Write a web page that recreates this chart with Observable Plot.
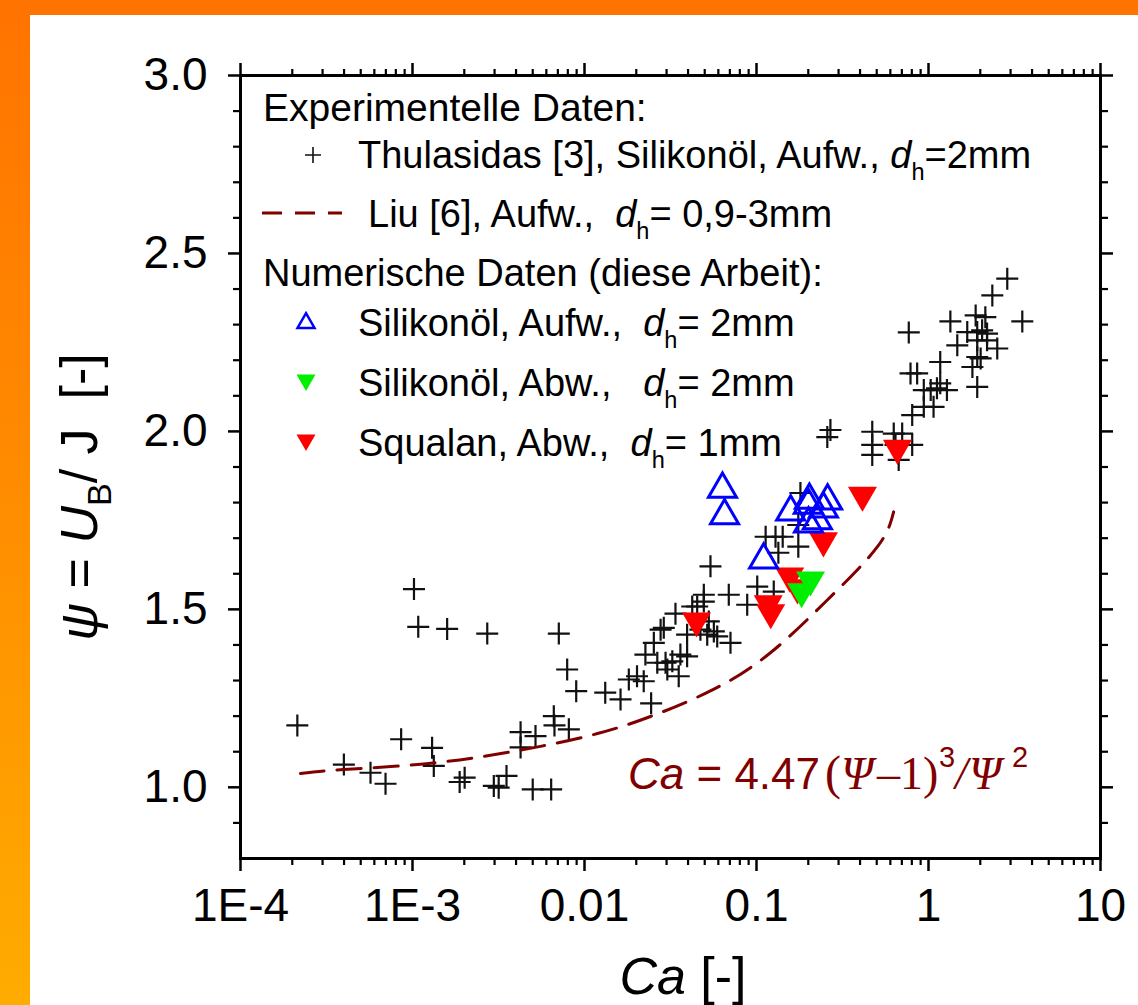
<!DOCTYPE html>
<html><head><meta charset="utf-8">
<script src="https://cdn.jsdelivr.net/npm/d3@7"></script>
<script src="https://cdn.jsdelivr.net/npm/@observablehq/plot@0.6"></script>
<style>
html,body{margin:0;padding:0;}
body{width:1138px;height:1005px;position:relative;overflow:hidden;background:linear-gradient(180deg,#ff7300 0%,#ff8a00 45%,#ffac00 100%);}
#panel{position:absolute;left:30px;top:15px;right:0;bottom:0;background:#fff;}
#chart{position:absolute;left:0;top:0;}
</style></head><body><div id="panel"></div><div id="chart"></div>
<script>
// Thulasidas [3] experimental data (Ca, psi)
const thulCa = [2.14e-4,3.99e-4,5.70e-4,6.97e-4,8.59e-4,1.02e-3,1.08e-3,1.59e-3,2.72e-3,7.09e-3,1.30e-3,1.33e-3,1.88e-3,2.01e-3,2.97e-3,3.17e-3,3.52e-3,5.00e-3,6.40e-3,4.25e-3,5.19e-3,4.25e-3,6.63e-3,6.69e-3,8.11e-3,7.93e-3,8.95e-3,0.0132,0.0162,0.0244,0.0181,0.0202,0.0221,0.0226,0.0253,0.0289,0.0338,0.0265,0.0296,0.0324,0.0361,0.0395,0.0303,0.0353,0.0395,0.0423,0.0452,0.0494,0.0517,0.0565,0.0591,0.0706,0.0528,0.0540,0.0494,0.0690,0.0883,0.126,0.101,0.113,0.129,0.142,0.134,0.175,0.180,0.175,0.0277,0.0472,0.269,0.258,0.471,0.471,0.471,0.628,0.643,0.671,0.703,0.804,0.804,0.939,1.07,0.939,1.03,1.12,1.17,1.28,0.786,0.859,1.17,0.768,1.34,1.47,1.68,1.92,2.05,2.19,1.88,2.14,1.92,2.19,2.51,1.92,2.01,1.80,1.92,2.35,2.87,3.51];
const thulPsi = [1.174,1.064,1.041,1.010,1.135,1.557,1.451,1.445,1.432,1.432,1.111,1.060,1.015,1.027,1.004,0.999,1.032,0.994,0.994,1.155,1.144,1.112,1.200,1.174,1.163,1.331,1.270,1.266,1.247,1.236,1.303,1.312,1.298,1.373,1.406,1.448,1.488,1.350,1.350,1.354,1.373,1.368,1.331,1.312,1.429,1.508,1.508,1.522,1.429,1.438,1.424,1.406,1.466,1.621,1.541,1.541,1.513,1.550,1.564,1.704,1.704,1.704,1.659,1.676,1.827,1.737,1.443,1.443,2.004,1.984,1.999,1.962,1.934,1.994,1.962,1.920,1.994,1.962,2.046,2.069,2.069,2.116,2.116,2.121,2.135,2.116,2.163,2.163,2.195,2.278,2.309,2.242,2.279,2.279,2.284,2.275,2.326,2.321,2.256,2.256,2.233,2.209,2.205,2.181,2.125,2.382,2.429,2.309];

// Liu [6] correlation curve
const liuCa  = [2.23e-4,3.97e-4,1.07e-3,2.59e-3,5.55e-3,0.0119,0.0242,0.0562,0.1205,0.259,0.505,0.627];
const liuPsi = [1.039,1.050,1.064,1.087,1.115,1.151,1.199,1.275,1.378,1.527,1.676,1.774];

// Numerical data: Silikonöl Aufw. (blue), Silikonöl Abw. (green), Squalan Abw. (red)
const siAufCa  = [0.0634,0.0652,0.110,0.158,0.203,0.200,0.259,0.2005,0.226,0.245];
const siAufPsi = [1.838,1.763,1.639,1.774,1.807,1.793,1.805,1.740,1.749,1.782];
const siAbCa   = [0.206,0.183];
const siAbPsi  = [1.583,1.550];
const sqCa     = [0.660,0.413,0.245,0.156,0.173,0.117,0.121,0.0448];
const sqPsi    = [1.953,1.821,1.693,1.594,1.561,1.516,1.491,1.468];

// Axis ticks
const xMajor = [1e-4,1e-3,0.01,0.1,1,10];
const xLabels = ["1E-4","1E-3","0.01","0.1","1","10"];
const xMinor = [];
for (const e of [-4,-3,-2,-1,0]) for (let k=2;k<=9;k++) xMinor.push(+(k*Math.pow(10,e)).toPrecision(3));
const yMajor = [1.0,1.5,2.0,2.5,3.0];
const yMinor = [0.9,1.1,1.2,1.3,1.4,1.6,1.7,1.8,1.9,2.1,2.2,2.3,2.4,2.6,2.7,2.8,2.9];

const toRows = (xs, ys) => xs.map((x,i)=>({x, y: ys[i]}));
const thul = toRows(thulCa, thulPsi);
const liu = toRows(liuCa, liuPsi);
const siAuf = toRows(siAufCa, siAufPsi);
const siAb = toRows(siAbCa, siAbPsi);
const sq = toRows(sqCa, sqPsi);

const plusSym = {draw(ctx,size){const r=Math.sqrt(size/Math.PI);ctx.moveTo(-r,0);ctx.lineTo(r,0);ctx.moveTo(0,-r);ctx.lineTo(0,r);}};
const triUp = {draw(ctx,size){const r=Math.sqrt(size/Math.PI);const h=2*r*Math.sqrt(3)/2;ctx.moveTo(0,-2*h/3);ctx.lineTo(r,h/3);ctx.lineTo(-r,h/3);ctx.closePath();}};
const triDown = {draw(ctx,size){const r=Math.sqrt(size/Math.PI);const h=2*r*Math.sqrt(3)/2;ctx.moveTo(0,2*h/3);ctx.lineTo(r,-h/3);ctx.lineTo(-r,-h/3);ctx.closePath();}};

const labelMap = new Map(xMajor.map((v,i)=>[v,xLabels[i]]));
const FONT = "'Liberation Sans', Arial, sans-serif";
const SERIF = "'Liberation Serif', 'Times New Roman', serif";
const DARKRED = "#800000";

const chart = Plot.plot({
  width: 1138, height: 1005,
  marginLeft: 240, marginRight: 38, marginTop: 75, marginBottom: 147,
  style: {background: "transparent", fontFamily: FONT, color: "black"},
  x: {type: "log", domain: [1e-4, 10]},
  y: {domain: [0.8, 3.0]},
  marks: [
    Plot.axisX(xMajor, {anchor: "bottom", tickSize: 13, tickPadding: 17, strokeWidth: 2.5, fontSize: 46, tickFormat: d => labelMap.get(d), label: null}),
    Plot.axisX(xMinor, {anchor: "bottom", tickSize: 7, strokeWidth: 2.2, fill: "none", label: null}),
    Plot.axisX(xMajor, {anchor: "top", tickSize: 13, strokeWidth: 2.5, fill: "none", label: null}),
    Plot.axisX(xMinor, {anchor: "top", tickSize: 7, strokeWidth: 2.2, fill: "none", label: null}),
    Plot.axisY(yMajor, {anchor: "left", tickSize: 12, tickPadding: 21, strokeWidth: 2.5, fontSize: 46, tickFormat: d3.format(".1f"), label: null}),
    Plot.axisY(yMinor, {anchor: "left", tickSize: 7, strokeWidth: 2.2, fill: "none", label: null}),
    Plot.axisY(yMajor, {anchor: "right", tickSize: 12, strokeWidth: 2.5, fill: "none", label: null}),
    Plot.axisY(yMinor, {anchor: "right", tickSize: 7, strokeWidth: 2.2, fill: "none", label: null}),
    Plot.dot(thul, {x: "x", y: "y", symbol: plusSym, r: 11, stroke: "#111", strokeWidth: 2.2, fill: "none"}),
    Plot.line(liu, {x: "x", y: "y", stroke: DARKRED, strokeWidth: 3, strokeDasharray: "24,13", curve: "natural"}),
    Plot.dot(sq, {x: "x", y: "y", symbol: triDown, r: 14.5, fill: "#ff0000", stroke: "none"}),
    Plot.dot(siAb, {x: "x", y: "y", symbol: triDown, r: 14.5, fill: "#00ee00", stroke: "none"}),
    Plot.dot(siAuf, {x: "x", y: "y", symbol: triUp, r: 14, fill: "none", stroke: "#0000ff", strokeWidth: 3}),
    Plot.frame({stroke: "black", strokeWidth: 3})
  ]
});
document.getElementById("chart").appendChild(chart);

// Legend, annotation and axis titles
const svg = d3.select(chart);
const g = svg.append("g").attr("font-family", FONT).attr("fill", "black").attr("text-anchor", "start").style("white-space", "pre");

function dhText(sel, x, y, before, after, size) {
  const t = sel.append("text").attr("x", x).attr("y", y).attr("font-size", size).attr("text-anchor", "start").attr("xml:space", "preserve");
  t.append("tspan").text(before);
  t.append("tspan").attr("font-style", "italic").text("d");
  t.append("tspan").attr("dy", 12).attr("font-size", size * 0.62).text("h");
  t.append("tspan").attr("dy", -12).text(after);
  return t;
}

g.append("text").attr("x", 263).attr("y", 121).attr("font-size", 39).text("Experimentelle Daten:");
g.append("path").attr("d", "M305,155H321M313,147V163").attr("stroke", "#111").attr("stroke-width", 1.6);
dhText(g, 358, 168, "Thulasidas [3], Silikonöl, Aufw., ", "=2mm", 38);
g.append("path").attr("d", "M262,213H342").attr("stroke", DARKRED).attr("stroke-width", 3).attr("stroke-dasharray", "20,13");
dhText(g, 368, 227, "Liu [6], Aufw.,  ", "= 0,9-3mm", 38);
g.append("text").attr("x", 263).attr("y", 286).attr("font-size", 38).text("Numerische Daten (diese Arbeit):");
// legend symbols
const lt = (cx, cy, r, up) => {
  const h = 2*r*Math.sqrt(3)/2;
  return up ? `M${cx},${cy-2*h/3}L${cx+r},${cy+h/3}L${cx-r},${cy+h/3}Z` : `M${cx},${cy+2*h/3}L${cx+r},${cy-h/3}L${cx-r},${cy-h/3}Z`;
};
g.append("path").attr("d", lt(306, 323, 8.5, true)).attr("fill", "none").attr("stroke", "#0000ff").attr("stroke-width", 2.5);
dhText(g, 358, 336, "Silikonöl, Aufw.,  ", "= 2mm", 38);
g.append("path").attr("d", lt(306, 380, 9.5, false)).attr("fill", "#00ee00");
dhText(g, 358, 396, "Silikonöl, Abw.,   ", "= 2mm", 38);
g.append("path").attr("d", lt(306, 440, 9.5, false)).attr("fill", "#ff0000");
dhText(g, 358, 456, "Squalan, Abw.,  ", "= 1mm", 38);

// formula annotation
const f = g.append("text").attr("x", 628).attr("y", 789).attr("font-size", 44).attr("fill", DARKRED).attr("xml:space", "preserve");
f.append("tspan").attr("font-style", "italic").text("Ca");
f.append("tspan").text(" = 4.47");
f.append("tspan").attr("x", 825).attr("font-family", SERIF).attr("font-size", 48).text("(");
f.append("tspan").attr("x", 841).attr("font-family", SERIF).attr("font-style", "italic").attr("font-size", 46).text("Ψ");
f.append("tspan").attr("x", 877).attr("font-family", SERIF).attr("font-size", 46).text("–1)");
f.append("tspan").attr("x", 939).attr("dy", -22).attr("font-size", 29).text("3");
f.append("tspan").attr("x", 955).attr("dy", 22).attr("font-family", SERIF).attr("font-style", "italic").attr("font-size", 46).text("/");
f.append("tspan").attr("x", 969).attr("font-family", SERIF).attr("font-style", "italic").attr("font-size", 46).text("Ψ");
f.append("tspan").attr("x", 1012).attr("dy", -22).attr("font-size", 29).text("2");

// x axis title
const xt = g.append("text").attr("x", 683).attr("y", 994).attr("font-size", 52).attr("text-anchor", "middle").attr("xml:space", "preserve");
xt.append("tspan").attr("font-style", "italic").text("Ca");
xt.append("tspan").text(" [-]");

// y axis title
const yt = g.append("text").attr("transform", "translate(97,497) rotate(-90)").attr("font-size", 52).attr("text-anchor", "middle").attr("xml:space", "preserve");
yt.append("tspan").attr("font-style", "italic").text("ψ");
yt.append("tspan").text(" = ");
yt.append("tspan").attr("font-style", "italic").text("U");
yt.append("tspan").attr("dy", 14).attr("font-size", 34).text("B");
yt.append("tspan").attr("dy", -14).text("/ J  [-]");
</script>
</body></html>
